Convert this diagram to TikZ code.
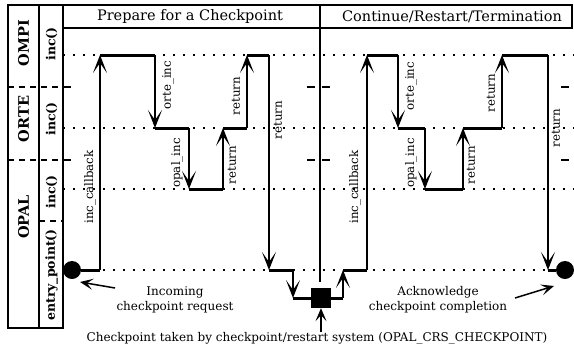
\documentclass[tikz,border=0pt]{standalone}
\usepackage{fontspec}
\setmainfont{DejaVu Serif}
\usetikzlibrary{arrows.meta}
\begin{document}
\begin{tikzpicture}[x=1pt,y=-1pt,
  frame/.style={line width=1.2pt},
  lvl/.style={line width=1.1pt, dash pattern=on 2pt off 8pt},
  dsh/.style={line width=1.1pt, dash pattern=on 6pt off 5pt},
  tck/.style={line width=1.1pt},
  hseg/.style={line width=3pt},
  vseg/.style={line width=1.5pt, -{Stealth[length=18pt,width=14pt,inset=10pt]}},
  note/.style={line width=1.5pt, -{Stealth[length=13pt,width=11pt,inset=6pt]}},
  lbl/.style={rotate=90, font=\fontsize{11.8}{13}\selectfont, inner sep=0pt},
  lane/.style={rotate=90, font=\bfseries\fontsize{14.5}{15}\selectfont, inner sep=0pt},
  fn/.style={rotate=90, font=\bfseries\fontsize{12.5}{13}\selectfont, inner sep=0pt},
  hdr/.style={font=\fontsize{14.5}{16}\selectfont, inner sep=0pt},
  txt/.style={font=\fontsize{12}{15}\selectfont, align=center, inner sep=0pt},
  dot/.style={circle, fill, minimum size=18pt, inner sep=0pt},
  sq/.style={fill, minimum size=20pt, inner sep=0pt}
]
\useasboundingbox (0,0) rectangle (574,349);
% level lines
\foreach \yy in {55,128,189,270} \draw[lvl] (63,\yy) -- (574,\yy);
% frames
\draw[frame] (8,5) rectangle (63,328);
\draw[frame] (39,5) -- (39,328);
\draw[frame] (63,5) -- (572,5) -- (572,28) -- (63,28);
\draw[frame] (320,5) -- (320,282);
\draw[dsh] (8,87) -- (63,87);
\draw[dsh] (8,160) -- (63,160);
\draw[dsh] (39,221) -- (63,221);
\foreach \yy in {87,160} {
  \draw[tck] (63,\yy) -- (71,\yy);
  \draw[tck] (307,\yy) -- (315,\yy);
  \draw[tck] (322,\yy) -- (330,\yy);
  \draw[tck] (561,\yy) -- (569,\yy);
}
% lane labels
\node[lane] (ompi) at (23.5,43) {OMPI};
\node[lane] (orte) at (23.5,119) {ORTE};
\node[lane] (opal) at (23.5,217) {OPAL};
\node[fn] (inc1) at (51.5,44) {inc()};
\node[fn] (inc2) at (51.5,119) {inc()};
\node[fn] (inc3) at (51.5,192) {inc()};
\node[fn] (entry) at (51.5,275) {entry\_point()};
% headers
\node[hdr] (h1) at (190,16.5) {Prepare for a Checkpoint};
\node[hdr] (h2) at (452,16.5) {Continue/Restart/Termination};
% flow coordinates
\coordinate (a1) at (100,270); \coordinate (a2) at (100,55);
\coordinate (b1) at (155,55);  \coordinate (b2) at (155,128);
\coordinate (c1) at (189,128); \coordinate (c2) at (189,189);
\coordinate (d1) at (223,189); \coordinate (d2) at (223,128);
\coordinate (e1) at (247,128); \coordinate (e2) at (247,55);
\coordinate (f1) at (269,55);  \coordinate (f2) at (269,270);
\coordinate (g1) at (293,270); \coordinate (g2) at (293,298);
\coordinate (h1c) at (343,298); \coordinate (h2c) at (343,270);
\coordinate (i1) at (367,270); \coordinate (i2) at (367,55);
\coordinate (j1) at (398,55);  \coordinate (j2) at (398,128);
\coordinate (k1) at (425,128); \coordinate (k2) at (425,189);
\coordinate (l1) at (463,189); \coordinate (l2) at (463,128);
\coordinate (m1) at (502,128); \coordinate (m2) at (502,55);
\coordinate (n1) at (548,55);  \coordinate (n2) at (548,270);
\node[dot] (S) at (72,270) {};
\node[dot] (E) at (565,270) {};
\node[sq] (Q) at (321,298) {};
% thick horizontals
\draw[hseg] (S) -- (a1);
\draw[hseg] (a2) -- (b1);
\draw[hseg] (b2) -- (c1);
\draw[hseg] (c2) -- (d1);
\draw[hseg] (d2) -- (e1);
\draw[hseg] (e2) -- (f1);
\draw[hseg] (f2) -- (g1);
\draw[hseg] (g2) -- (Q);
\draw[hseg] (Q) -- (h1c);
\draw[hseg] (h2c) -- (i1);
\draw[hseg] (i2) -- (j1);
\draw[hseg] (j2) -- (k1);
\draw[hseg] (k2) -- (l1);
\draw[hseg] (l2) -- (m1);
\draw[hseg] (m2) -- (n1);
\draw[hseg] (n2) -- (E);
% vertical calls
\draw[vseg] (a1) -- (a2);
\draw[vseg] (b1) -- (b2);
\draw[vseg] (c1) -- (c2);
\draw[vseg] (d1) -- (d2);
\draw[vseg] (e1) -- (e2);
\draw[vseg] (f1) -- (f2);
\draw[vseg] (g1) -- (g2);
\draw[vseg] (h1c) -- (h2c);
\draw[vseg] (i1) -- (i2);
\draw[vseg] (j1) -- (j2);
\draw[vseg] (k1) -- (k2);
\draw[vseg] (l1) -- (l2);
\draw[vseg] (m1) -- (m2);
\draw[vseg] (n1) -- (n2);
% call labels
\node[lbl] (t1) at (90,187) {inc\_callback};
\node[lbl] (t2) at (168,85) {orte\_inc};
\node[lbl] (t3) at (177,163) {opal\_inc};
\node[lbl] (t4) at (232,165) {return};
\node[lbl] (t5) at (236,96) {return};
\node[lbl] (t6) at (278,120) {return};
\node[lbl] (t7) at (355,187) {inc\_callback};
\node[lbl] (t8) at (411,86) {orte\_inc};
\node[lbl] (t9) at (411,163) {opal\_inc};
\node[lbl] (t10) at (471,165) {return};
\node[lbl] (t11) at (491,93) {return};
\node[lbl] (t12) at (556,128) {return};
% notes
\node[txt] (inq) at (175,300) {Incoming\\checkpoint request};
\node[txt] (ack) at (438,300) {Acknowledge\\checkpoint completion};
\node[txt] (cap) at (317,338) {Checkpoint taken by checkpoint/restart system (OPAL\_CRS\_CHECKPOINT)};
\coordinate (inqs) at (115,288); \coordinate (inqt) at (80,282);
\coordinate (acks) at (515,298); \coordinate (ackt) at (554,286);
\draw[note] (inqs) -- (inqt);
\draw[note] (acks) -- (ackt);
\draw[note] (cap.north -| Q) -- (Q);
\end{tikzpicture}
\end{document}
